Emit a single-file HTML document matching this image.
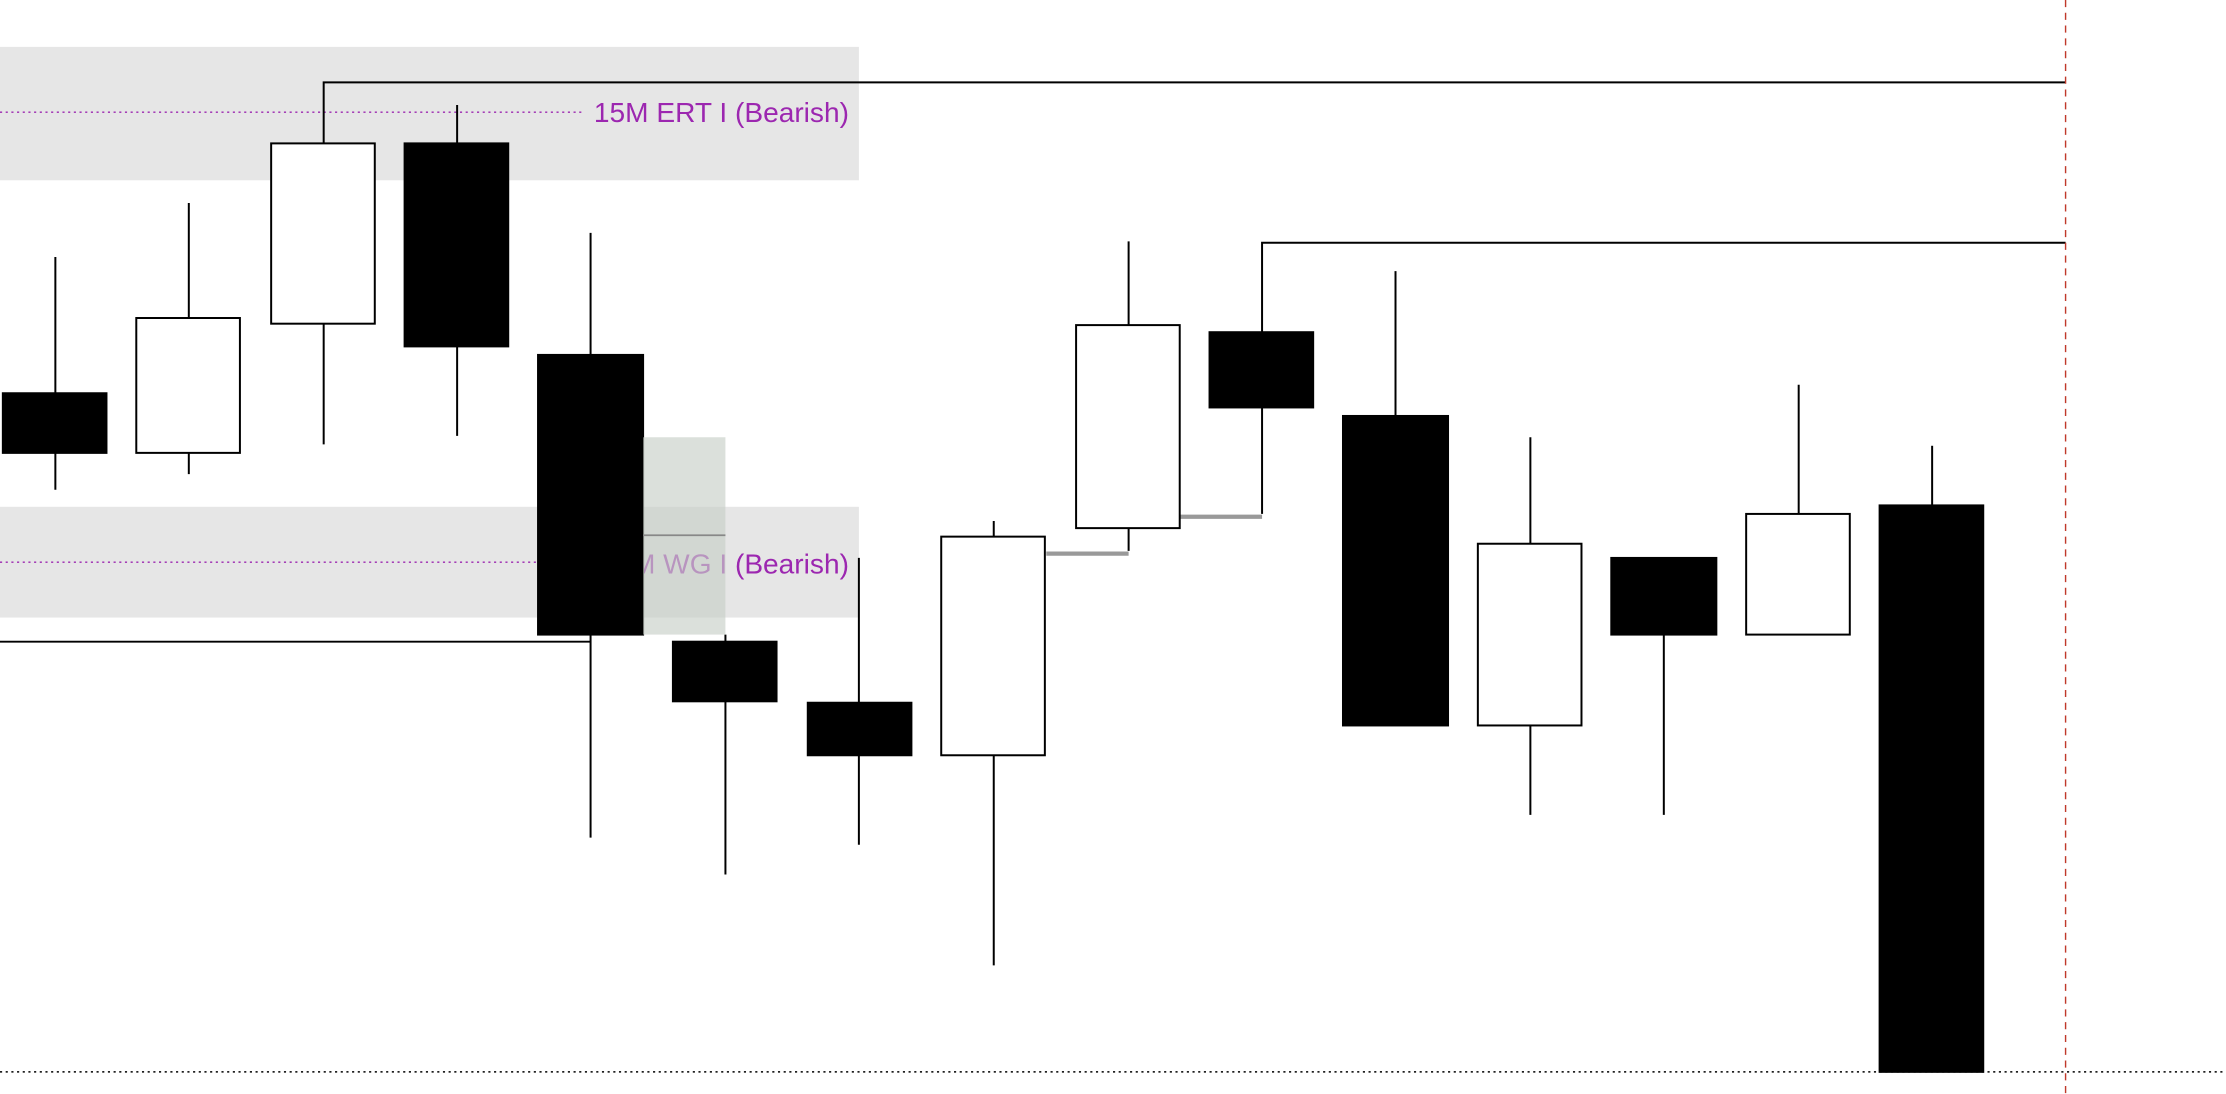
<!DOCTYPE html>
<html><head><meta charset="utf-8"><style>html,body{margin:0;padding:0;background:#fff;overflow:hidden}svg{display:block}</style></head>
<body>
<svg width="2226" height="1094" viewBox="0 0 1568 770.6" preserveAspectRatio="none" xmlns="http://www.w3.org/2000/svg">
<rect x="0" y="0" width="1568" height="770.6" fill="#fff"/>
<rect x="0" y="33" width="605" height="94" fill="#e6e6e6"/>
<rect x="0" y="357" width="605" height="78" fill="#e6e6e6"/>
<line x1="0" y1="79" x2="410" y2="79" stroke="#9c27b0" stroke-width="1" stroke-dasharray="1.5,2.5"/>
<line x1="0" y1="396" x2="420" y2="396" stroke="#9c27b0" stroke-width="1" stroke-dasharray="1.5,2.5"/>
<g font-family="Liberation Sans, sans-serif" font-size="19.8" fill="#9c27b0" text-anchor="end">
<text x="598" y="86">15M ERT I (Bearish)</text>
<text x="598" y="404">15M WG I (Bearish)</text>
</g>
<g stroke="#000" stroke-width="1.4" fill="none">
<polyline points="228,101 228,58 1455,58"/>
<polyline points="889,234 889,171 1455,171"/>
<line x1="0" y1="452" x2="416" y2="452"/>
<line x1="39" y1="181" x2="39" y2="345"/>
<line x1="133" y1="143" x2="133" y2="334"/>
<line x1="228" y1="228" x2="228" y2="313"/>
<line x1="322" y1="74" x2="322" y2="307"/>
<line x1="416" y1="164" x2="416" y2="590"/>
<line x1="511" y1="447" x2="511" y2="616"/>
<line x1="605" y1="393" x2="605" y2="595"/>
<line x1="700" y1="367" x2="700" y2="680"/>
<line x1="795" y1="170" x2="795" y2="388"/>
<line x1="889" y1="287" x2="889" y2="362"/>
<line x1="983" y1="191" x2="983" y2="293"/>
<line x1="1078" y1="308" x2="1078" y2="574"/>
<line x1="1172" y1="447" x2="1172" y2="574"/>
<line x1="1267" y1="271" x2="1267" y2="362"/>
<line x1="1361" y1="314" x2="1361" y2="356"/>
</g>
<line x1="737" y1="390" x2="795" y2="390" stroke="#999" stroke-width="3"/>
<line x1="831" y1="364" x2="889" y2="364" stroke="#999" stroke-width="3"/>
<g stroke="#000" stroke-width="1.4">
<rect x="2" y="277" width="73" height="42" fill="#000"/>
<rect x="96" y="224" width="73" height="95" fill="#fff"/>
<rect x="191" y="101" width="73" height="127" fill="#fff"/>
<rect x="285" y="101" width="73" height="143" fill="#000"/>
<rect x="379" y="250" width="74" height="197" fill="#000"/>
<rect x="474" y="452" width="73" height="42" fill="#000"/>
<rect x="569" y="495" width="73" height="37" fill="#000"/>
<rect x="663" y="378" width="73" height="154" fill="#fff"/>
<rect x="758" y="229" width="73" height="143" fill="#fff"/>
<rect x="852" y="234" width="73" height="53" fill="#000"/>
<rect x="946" y="293" width="74" height="218" fill="#000"/>
<rect x="1041" y="383" width="73" height="128" fill="#fff"/>
<rect x="1135" y="393" width="74" height="54" fill="#000"/>
<rect x="1230" y="362" width="73" height="85" fill="#fff"/>
<rect x="1324" y="356" width="73" height="399" fill="#000"/>
</g>
<rect x="453" y="308" width="58" height="139" fill="#c8d0c8" opacity="0.65"/>
<line x1="453" y1="377" x2="511" y2="377" stroke="#888" stroke-width="1.2"/>
<line x1="1455" y1="0" x2="1455" y2="770.6" stroke="#c0392b" stroke-width="1" stroke-dasharray="5,4"/>
<line x1="0" y1="755" x2="1568" y2="755" stroke="#000" stroke-width="1" stroke-dasharray="1.5,2.5"/>
</svg>
</body></html>
